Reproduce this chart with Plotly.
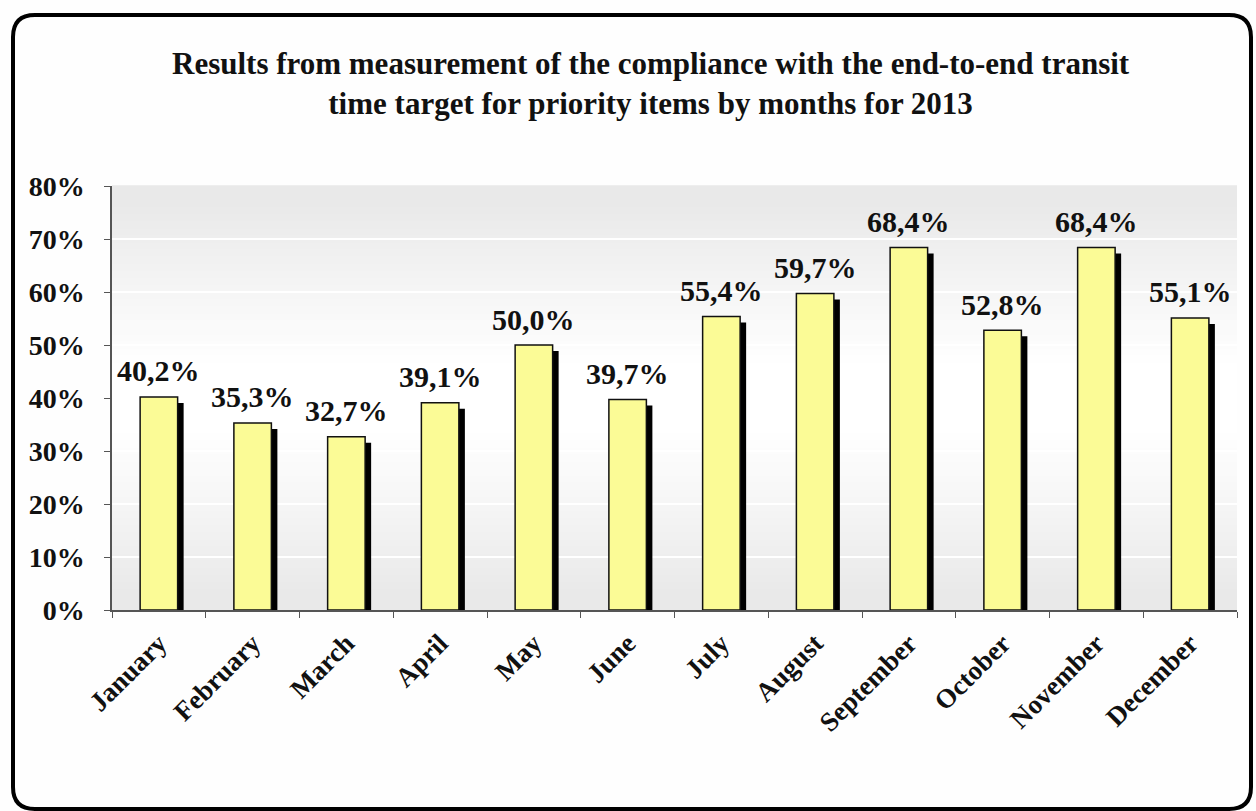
import plotly.graph_objects as go

months = ["January", "February", "March", "April", "May", "June", "July",
          "August", "September", "October", "November", "December"]
values = [40.2, 35.3, 32.7, 39.1, 50.0, 39.7, 55.4, 59.7, 68.4, 52.8, 68.4, 55.1]
labels = ["40,2%", "35,3%", "32,7%", "39,1%", "50,0%", "39,7%", "55,4%",
          "59,7%", "68,4%", "52,8%", "68,4%", "55,1%"]
y_ticks = [0, 10, 20, 30, 40, 50, 60, 70, 80]
y_tick_text = ["0%", "10%", "20%", "30%", "40%", "50%", "60%", "70%", "80%"]
title_lines = ["Results from measurement of the compliance with the end-to-end transit",
               "time target for priority items by months for 2013"]

W, H = 1256, 811
L, R, T, B = 112, 1237, 186, 610
FONT = "Times New Roman, Liberation Serif, serif"

def px_x(p):
    return (p - L) / (R - L)

def px_y(p):
    return (B - p) / (B - T)

fig = go.Figure()

# shadow bars
shadow_dy = 6 * 80 / (B - T)
shadow_dx = 6 / ((R - L) / 12)
fig.add_trace(go.Bar(
    x=months, y=[v - shadow_dy for v in values],
    width=0.4, offset=-0.2 + shadow_dx,
    marker=dict(color="#000000", line=dict(width=0)),
    hoverinfo="skip", showlegend=False))

# main bars
fig.add_trace(go.Bar(
    x=months, y=values,
    width=0.4, offset=-0.2,
    marker=dict(color="#FBFB96", line=dict(color="#111111", width=1.5)),
    showlegend=False))

annotations = []
for m, v, t in zip(months, values, labels):
    annotations.append(dict(x=m, y=v, text="<b>" + t + "</b>", showarrow=False,
                            yanchor="middle", yshift=26, xref="x", yref="y",
                            font=dict(family=FONT, size=30, color="#111111")))

# title
annotations.append(dict(
    text="<b>" + "<br>".join(title_lines) + "</b>",
    xref="paper", yref="paper", x=px_x(651), y=px_y(44), xanchor="center", yanchor="top",
    showarrow=False, align="center",
    font=dict(family=FONT, size=31, color="#111111")))

shapes = []
# gradient background strips
n = 60
for i in range(n):
    t0 = i / n
    t1 = (i + 1) / n
    tm = (t0 + t1) / 2
    d = abs(tm - 0.5)
    f = min(max((d - 0.08) / 0.38, 0), 1)
    g = int(round(255 - 22 * f))
    shapes.append(dict(type="rect", xref="paper", yref="paper", x0=0, x1=1,
                       y0=t0, y1=t1 + 0.002, fillcolor=f"rgb({g},{g},{g})",
                       line=dict(width=0), layer="below"))

# rounded border
x0, y0, x1, y1, r = 13, 15, 1251, 809, 22
def P(x, y):
    return f"{px_x(x):.5f},{px_y(y):.5f}"
path = (f"M {P(x0 + r, y0)} L {P(x1 - r, y0)} Q {P(x1, y0)} {P(x1, y0 + r)} "
        f"L {P(x1, y1 - r)} Q {P(x1, y1)} {P(x1 - r, y1)} "
        f"L {P(x0 + r, y1)} Q {P(x0, y1)} {P(x0, y1 - r)} "
        f"L {P(x0, y0 + r)} Q {P(x0, y0)} {P(x0 + r, y0)} Z")
shapes.append(dict(type="path", xref="paper", yref="paper", path=path,
                   line=dict(color="#000000", width=4), layer="above"))

fig.update_layout(
    width=W, height=H,
    margin=dict(l=L, r=W - R, t=T, b=H - B),
    paper_bgcolor="#FEFEFE", plot_bgcolor="rgba(0,0,0,0)",
    barmode="overlay",
    shapes=shapes, annotations=annotations,
    font=dict(family=FONT, color="#111111"),
    xaxis=dict(
        tickmode="array", tickvals=months, ticktext=["<b>" + m + "</b>" for m in months],
        tickangle=-45, tickson="boundaries", ticks="outside", ticklen=6,
        tickcolor="#555555", showline=True, linecolor="#555555", linewidth=1.5,
        showgrid=False, tickfont=dict(family=FONT, size=27, color="#111111"),
        ticklabelstandoff=5,
    ),
    yaxis=dict(
        range=[0, 80], tickmode="array", tickvals=y_ticks,
        ticktext=["<b>" + s + "</b>" for s in y_tick_text],
        ticks="outside", ticklen=6,
        tickcolor="#555555", showline=True, linecolor="#555555", linewidth=1.5,
        showgrid=True, gridcolor="#FFFFFF", gridwidth=2, zeroline=False,
        tickfont=dict(family=FONT, size=28, color="#111111"),
        ticklabelstandoff=14,
    ),
)

fig.write_html("out.html")
